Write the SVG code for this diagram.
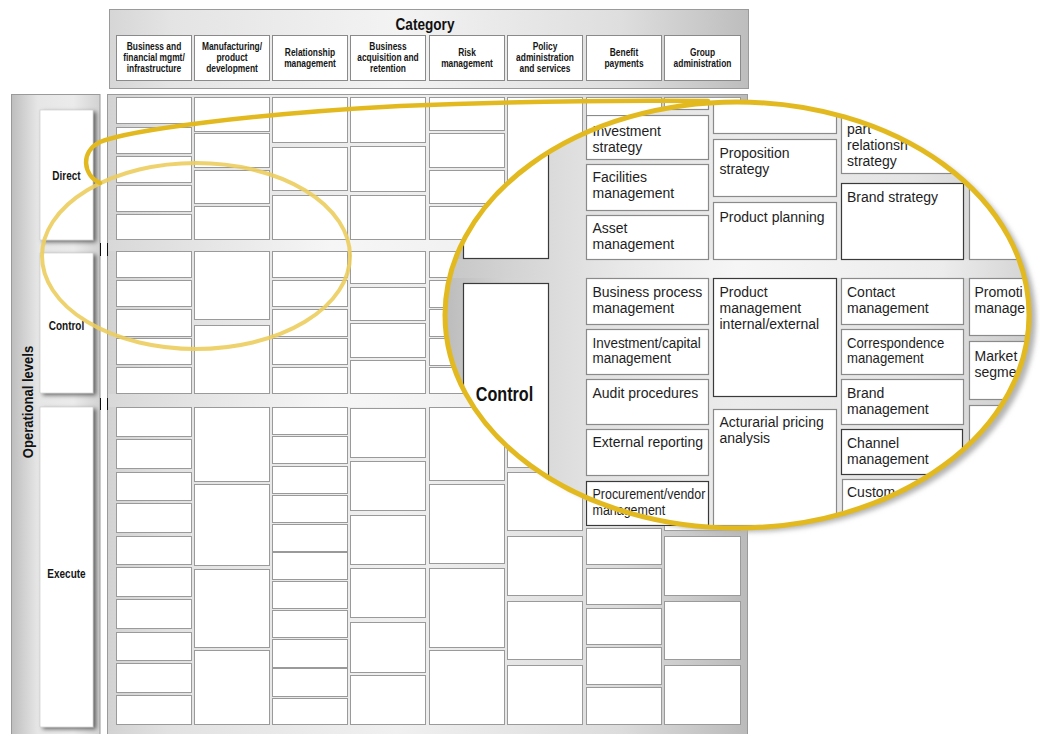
<svg xmlns="http://www.w3.org/2000/svg" width="1040" height="734" viewBox="0 0 1040 734">
<defs>
<linearGradient id="hdrGrad" gradientUnits="userSpaceOnUse" x1="109" y1="0" x2="749" y2="0">
<stop offset="0" stop-color="#d6d6d6"/><stop offset="0.1" stop-color="#e4e4e4"/><stop offset="0.45" stop-color="#f3f3f3"/><stop offset="0.8" stop-color="#dedede"/><stop offset="1" stop-color="#bdbdbd"/>
</linearGradient>
<linearGradient id="gridGrad" gradientUnits="userSpaceOnUse" x1="107" y1="0" x2="749" y2="0">
<stop offset="0" stop-color="#d2d2d2"/><stop offset="0.1" stop-color="#e2e2e2"/><stop offset="0.45" stop-color="#f0f0f0"/><stop offset="0.8" stop-color="#dcdcdc"/><stop offset="1" stop-color="#bababa"/>
</linearGradient>
<linearGradient id="bandGrad" gradientUnits="userSpaceOnUse" x1="107" y1="0" x2="749" y2="0">
<stop offset="0" stop-color="#d8d8d8"/><stop offset="0.35" stop-color="#f6f6f6"/><stop offset="0.7" stop-color="#eeeeee"/><stop offset="1" stop-color="#c8c8c8"/>
</linearGradient>
<linearGradient id="leftGrad" gradientUnits="userSpaceOnUse" x1="11" y1="0" x2="100" y2="0">
<stop offset="0" stop-color="#bdbdbd"/><stop offset="0.3" stop-color="#e6e6e6"/><stop offset="0.7" stop-color="#ebebeb"/><stop offset="1" stop-color="#d2d2d2"/>
</linearGradient>
<linearGradient id="magGrad" gradientUnits="userSpaceOnUse" x1="445" y1="0" x2="1030" y2="0">
<stop offset="0" stop-color="#bcbcbc"/><stop offset="0.1" stop-color="#d2d2d2"/><stop offset="0.25" stop-color="#e2e2e2"/><stop offset="0.5" stop-color="#ebebeb"/><stop offset="0.8" stop-color="#e4e4e4"/><stop offset="1" stop-color="#cdcdcd"/>
</linearGradient>
<linearGradient id="magBand" gradientUnits="userSpaceOnUse" x1="445" y1="0" x2="1030" y2="0">
<stop offset="0" stop-color="#c6c6c6"/><stop offset="0.3" stop-color="#e8e8e8"/><stop offset="0.5" stop-color="#f6f6f6"/><stop offset="0.85" stop-color="#ececec"/><stop offset="1" stop-color="#d4d4d4"/>
</linearGradient>
<filter id="shadow" x="-30%" y="-10%" width="160%" height="120%">
<feDropShadow dx="3" dy="2" stdDeviation="2" flood-color="#000" flood-opacity="0.55"/>
</filter>
<filter id="blur" x="-10%" y="-10%" width="120%" height="120%">
<feGaussianBlur stdDeviation="2.5"/>
</filter>
<clipPath id="magClip">
<ellipse cx="737" cy="315" rx="292" ry="213"/>
<rect x="586" y="115" width="123" height="45"/>
<rect x="586" y="481" width="123" height="45"/>
</clipPath>
</defs>
<style>
.box{fill:#fff;stroke:#9a9a9a;stroke-width:1}
.hbox{fill:#fff;stroke:#8a8a8a;stroke-width:1}
.ht{font-family:"Liberation Sans",Arial,sans-serif;font-weight:bold;font-size:10px;fill:#151515;text-anchor:middle}
.lbl{fill:#fff;stroke:#bbb;stroke-width:0.5;filter:url(#shadow)}
.lt{font-family:"Liberation Sans",Arial,sans-serif;font-weight:bold;font-size:12.5px;fill:#151515;text-anchor:middle}
.mbox{fill:#fff;stroke:#8a8a8a;stroke-width:1.2}
.mdark{fill:#fff;stroke:#3a3a3a;stroke-width:1.2}
.mt{font-family:"Liberation Sans",Arial,sans-serif;font-size:14px;fill:#1e1e1e}
.tick{stroke:#111;stroke-width:1}
</style>
<rect width="1040" height="734" fill="#fff"/>

<g id="header">
<rect x="109.5" y="9.5" width="639" height="79" fill="url(#hdrGrad)" stroke="#9a9a9a"/>
<text x="0" y="0" transform="translate(425,29.5) scale(0.85,1)" font-family="Liberation Sans,Arial,sans-serif" font-weight="bold" font-size="16" fill="#111" text-anchor="middle">Category</text>
<g id="h1"><rect class="hbox" x="116.5" y="35.5" width="75" height="45"/><text class="ht" transform="translate(154,49.5) scale(0.84,1)"><tspan x="0">Business and</tspan><tspan x="0" dy="11.5">financial mgmt/</tspan><tspan x="0" dy="11.5">infrastructure</tspan></text></g>
<g id="h2"><rect class="hbox" x="194.5" y="35.5" width="75" height="45"/><text class="ht" transform="translate(232,49.5) scale(0.84,1)"><tspan x="0">Manufacturing/</tspan><tspan x="0" dy="11.5">product</tspan><tspan x="0" dy="11.5">development</tspan></text></g>
<g id="h3"><rect class="hbox" x="272.5" y="35.5" width="75" height="45"/><text class="ht" transform="translate(310,55.5) scale(0.84,1)"><tspan x="0">Relationship</tspan><tspan x="0" dy="11.5">management</tspan></text></g>
<g id="h4"><rect class="hbox" x="350.5" y="35.5" width="75" height="45"/><text class="ht" transform="translate(388,49.5) scale(0.84,1)"><tspan x="0">Business</tspan><tspan x="0" dy="11.5">acquisition and</tspan><tspan x="0" dy="11.5">retention</tspan></text></g>
<g id="h5"><rect class="hbox" x="429.5" y="35.5" width="75" height="45"/><text class="ht" transform="translate(467,55.5) scale(0.84,1)"><tspan x="0">Risk</tspan><tspan x="0" dy="11.5">management</tspan></text></g>
<g id="h6"><rect class="hbox" x="507.5" y="35.5" width="75" height="45"/><text class="ht" transform="translate(545,49.5) scale(0.84,1)"><tspan x="0">Policy</tspan><tspan x="0" dy="11.5">administration</tspan><tspan x="0" dy="11.5">and services</tspan></text></g>
<g id="h7"><rect class="hbox" x="586.5" y="35.5" width="75" height="45"/><text class="ht" transform="translate(624,55.5) scale(0.84,1)"><tspan x="0">Benefit</tspan><tspan x="0" dy="11.5">payments</tspan></text></g>
<g id="h8"><rect class="hbox" x="664.5" y="35.5" width="76" height="45"/><text class="ht" transform="translate(702.5,55.5) scale(0.84,1)"><tspan x="0">Group</tspan><tspan x="0" dy="11.5">administration</tspan></text></g>
</g>

<g id="levels">
<rect x="11.5" y="94.5" width="88.5" height="650" fill="url(#leftGrad)" stroke="#9a9a9a"/>
<text transform="translate(33,402) rotate(-90) scale(0.9,1)" font-family="Liberation Sans,Arial,sans-serif" font-weight="bold" font-size="14.5" fill="#111" text-anchor="middle">Operational levels</text>
<g id="lvl-direct"><rect class="lbl" x="40" y="110" width="53" height="130"/><text class="lt" transform="translate(66.5,180) scale(0.8,1)">Direct</text></g>
<g id="lvl-control"><rect class="lbl" x="40" y="253" width="53" height="140"/><text class="lt" transform="translate(66.5,330) scale(0.8,1)">Control</text></g>
<g id="lvl-execute"><rect class="lbl" x="40" y="407" width="53" height="320"/><text class="lt" transform="translate(66.5,578) scale(0.8,1)">Execute</text></g>
</g>

<g id="grid">
<rect x="107.5" y="94.5" width="640" height="650" fill="url(#gridGrad)" stroke="#9a9a9a"/>
<rect x="108" y="240" width="639" height="11" fill="url(#bandGrad)"/>
<rect x="108" y="394" width="639" height="13" fill="url(#bandGrad)"/>
<line class="tick" x1="100.5" y1="243" x2="100.5" y2="256"/><line class="tick" x1="107.5" y1="243" x2="107.5" y2="256"/>
<line class="tick" x1="100.5" y1="398" x2="100.5" y2="410"/><line class="tick" x1="107.5" y1="398" x2="107.5" y2="410"/>

<g id="col1">
<g id="c1d1"><rect class="box" x="116.5" y="97.5" width="75" height="26"/></g>
<g id="c1d2"><rect class="box" x="116.5" y="127.5" width="75" height="26"/></g>
<g id="c1d3"><rect class="box" x="116.5" y="156.5" width="75" height="26"/></g>
<g id="c1d4"><rect class="box" x="116.5" y="185.5" width="75" height="26"/></g>
<g id="c1d5"><rect class="box" x="116.5" y="214.5" width="75" height="25"/></g>
<g id="c1c1"><rect class="box" x="116.5" y="251.5" width="75" height="26"/></g>
<g id="c1c2"><rect class="box" x="116.5" y="280.5" width="75" height="26"/></g>
<g id="c1c3"><rect class="box" x="116.5" y="309.5" width="75" height="27"/></g>
<g id="c1c4"><rect class="box" x="116.5" y="338.5" width="75" height="26"/></g>
<g id="c1c5"><rect class="box" x="116.5" y="367.5" width="75" height="26"/></g>
<g id="c1e1"><rect class="box" x="116.5" y="407.5" width="75" height="29"/></g>
<g id="c1e2"><rect class="box" x="116.5" y="439.5" width="75" height="29"/></g>
<g id="c1e3"><rect class="box" x="116.5" y="472.5" width="75" height="28"/></g>
<g id="c1e4"><rect class="box" x="116.5" y="503.5" width="75" height="29"/></g>
<g id="c1e5"><rect class="box" x="116.5" y="536.5" width="75" height="28"/></g>
<g id="c1e6"><rect class="box" x="116.5" y="567.5" width="75" height="29"/></g>
<g id="c1e7"><rect class="box" x="116.5" y="599.5" width="75" height="29"/></g>
<g id="c1e8"><rect class="box" x="116.5" y="632.5" width="75" height="28"/></g>
<g id="c1e9"><rect class="box" x="116.5" y="663.5" width="75" height="29"/></g>
<g id="c1e10"><rect class="box" x="116.5" y="695.5" width="75" height="29"/></g>
</g>
<g id="col2">
<g id="c2d1"><rect class="box" x="194.5" y="97.5" width="75" height="34"/></g>
<g id="c2d2"><rect class="box" x="194.5" y="133.5" width="75" height="34"/></g>
<g id="c2d3"><rect class="box" x="194.5" y="170.5" width="75" height="33"/></g>
<g id="c2d4"><rect class="box" x="194.5" y="206.5" width="75" height="33"/></g>
<g id="c2c1"><rect class="box" x="194.5" y="251.5" width="75" height="68" stroke="#555"/></g>
<g id="c2c2"><rect class="box" x="194.5" y="325.5" width="75" height="68"/></g>
<g id="c2e1"><rect class="box" x="194.5" y="407.5" width="75" height="74"/></g>
<g id="c2e2"><rect class="box" x="194.5" y="484.5" width="75" height="81"/></g>
<g id="c2e3"><rect class="box" x="194.5" y="569.5" width="75" height="78"/></g>
<g id="c2e4"><rect class="box" x="194.5" y="650.5" width="75" height="74"/></g>
</g>
<g id="col3">
<g id="c3d1"><rect class="box" x="272.5" y="97.5" width="75" height="45"/></g>
<g id="c3d2"><rect class="box" x="272.5" y="147.5" width="75" height="43"/></g>
<g id="c3d3"><rect class="box" x="272.5" y="195.5" width="75" height="44"/></g>
<g id="c3c1"><rect class="box" x="272.5" y="251.5" width="75" height="26"/></g>
<g id="c3c2"><rect class="box" x="272.5" y="280.5" width="75" height="26"/></g>
<g id="c3c3"><rect class="box" x="272.5" y="309.5" width="75" height="27"/></g>
<g id="c3c4"><rect class="box" x="272.5" y="338.5" width="75" height="26"/></g>
<g id="c3c5"><rect class="box" x="272.5" y="367.5" width="75" height="26"/></g>
<g id="c3e1"><rect class="box" x="272.5" y="407.5" width="75" height="27"/></g>
<g id="c3e2"><rect class="box" x="272.5" y="436.5" width="75" height="27"/></g>
<g id="c3e3"><rect class="box" x="272.5" y="466.5" width="75" height="27"/></g>
<g id="c3e4"><rect class="box" x="272.5" y="495.5" width="75" height="27"/></g>
<g id="c3e5"><rect class="box" x="272.5" y="524.5" width="75" height="27"/></g>
<g id="c3e6"><rect class="box" x="272.5" y="552.5" width="75" height="27"/></g>
<g id="c3e7"><rect class="box" x="272.5" y="581.5" width="75" height="27"/></g>
<g id="c3e8"><rect class="box" x="272.5" y="610.5" width="75" height="27"/></g>
<g id="c3e9"><rect class="box" x="272.5" y="639.5" width="75" height="28"/></g>
<g id="c3e10"><rect class="box" x="272.5" y="668.5" width="75" height="28"/></g>
<g id="c3e11"><rect class="box" x="272.5" y="698.5" width="75" height="26"/></g>
</g>
<g id="col4">
<g id="c4d1"><rect class="box" x="350.5" y="97.5" width="75" height="45"/></g>
<g id="c4d2"><rect class="box" x="350.5" y="146.5" width="75" height="45"/></g>
<g id="c4d3"><rect class="box" x="350.5" y="195.5" width="75" height="44"/></g>
<g id="c4c1"><rect class="box" x="350.5" y="251.5" width="75" height="32"/></g>
<g id="c4c2"><rect class="box" x="350.5" y="287.5" width="75" height="33"/></g>
<g id="c4c3"><rect class="box" x="350.5" y="323.5" width="75" height="34"/></g>
<g id="c4c4"><rect class="box" x="350.5" y="360.5" width="75" height="33"/></g>
<g id="c4e1"><rect class="box" x="350.5" y="408.5" width="75" height="49"/></g>
<g id="c4e2"><rect class="box" x="350.5" y="461.5" width="75" height="49"/></g>
<g id="c4e3"><rect class="box" x="350.5" y="515.5" width="75" height="49"/></g>
<g id="c4e4"><rect class="box" x="350.5" y="568.5" width="75" height="49"/></g>
<g id="c4e5"><rect class="box" x="350.5" y="622.5" width="75" height="50"/></g>
<g id="c4e6"><rect class="box" x="350.5" y="675.5" width="75" height="49"/></g>
</g>
<g id="col5">
<g id="c5d1"><rect class="box" x="429.5" y="97.5" width="75" height="33"/></g>
<g id="c5d2"><rect class="box" x="429.5" y="133.5" width="75" height="34"/></g>
<g id="c5d3"><rect class="box" x="429.5" y="170.5" width="75" height="33"/></g>
<g id="c5d4"><rect class="box" x="429.5" y="206.5" width="75" height="33"/></g>
<g id="c5c1"><rect class="box" x="429.5" y="251.5" width="75" height="26"/></g>
<g id="c5c2"><rect class="box" x="429.5" y="280.5" width="75" height="27"/></g>
<g id="c5c3"><rect class="box" x="429.5" y="309.5" width="75" height="27"/></g>
<g id="c5c4"><rect class="box" x="429.5" y="338.5" width="75" height="27"/></g>
<g id="c5c5"><rect class="box" x="429.5" y="367.5" width="75" height="26"/></g>
<g id="c5e1"><rect class="box" x="429.5" y="407.5" width="75" height="73"/></g>
<g id="c5e2"><rect class="box" x="429.5" y="484.5" width="75" height="79"/></g>
<g id="c5e3"><rect class="box" x="429.5" y="568.5" width="75" height="79"/></g>
<g id="c5e4"><rect class="box" x="429.5" y="650.5" width="75" height="74"/></g>
</g>
<g id="col6">
<g id="c6d1"><rect class="box" x="507.5" y="97.5" width="75" height="142"/></g>
<g id="c6e1"><rect class="box" x="507.5" y="407.5" width="75" height="60"/></g>
<g id="c6e2"><rect class="box" x="507.5" y="472.5" width="75" height="58"/></g>
<g id="c6e3"><rect class="box" x="507.5" y="536.5" width="75" height="59"/></g>
<g id="c6e4"><rect class="box" x="507.5" y="601.5" width="75" height="58"/></g>
<g id="c6e5"><rect class="box" x="507.5" y="665.5" width="75" height="59"/></g>
</g>
<g id="col7">
<g id="c7d1"><rect class="box" x="586.5" y="97.5" width="75" height="43"/></g>
<g id="c7e1"><rect class="box" x="586.5" y="528.5" width="75" height="36"/></g>
<g id="c7e2"><rect class="box" x="586.5" y="568.5" width="75" height="36"/></g>
<g id="c7e3"><rect class="box" x="586.5" y="608.5" width="75" height="36"/></g>
<g id="c7e4"><rect class="box" x="586.5" y="647.5" width="75" height="37"/></g>
<g id="c7e5"><rect class="box" x="586.5" y="687.5" width="75" height="37"/></g>
</g>
<g id="col8">
<g id="c8d1"><rect class="box" x="664.5" y="97.5" width="76" height="43"/></g>
<g id="c8e1"><rect class="box" x="664.5" y="407.5" width="76" height="60"/></g>
<g id="c8e2"><rect class="box" x="664.5" y="472.5" width="76" height="58"/></g>
<g id="c8e3"><rect class="box" x="664.5" y="536.5" width="76" height="59"/></g>
<g id="c8e4"><rect class="box" x="664.5" y="601.5" width="76" height="58"/></g>
<g id="c8e5"><rect class="box" x="664.5" y="665.5" width="76" height="59"/></g>
</g>
</g>

<g id="source-lens">
<ellipse cx="196" cy="256" rx="154" ry="93" fill="none" stroke="#ebcd5e" stroke-width="4" opacity="0.9"/>
</g>

<g id="magnifier">
<ellipse cx="744" cy="319" rx="292" ry="213" fill="#b4b4b4" filter="url(#blur)"/>
<g clip-path="url(#magClip)">
<rect x="440" y="95" width="600" height="440" fill="url(#magGrad)"/>
<rect x="440" y="259" width="600" height="19" fill="url(#magBand)"/>
<g id="m-direct"><rect class="mdark" x="463.5" y="33.5" width="85" height="225"/></g>
<g id="m-control"><rect class="mdark" x="463.5" y="283.5" width="85" height="244"/><text transform="translate(504.5,401) scale(0.77,1)" font-family="Liberation Sans,Arial,sans-serif" font-weight="bold" font-size="21" fill="#111" text-anchor="middle">Control</text></g>

<g id="mb1"><rect class="mbox" x="586.5" y="14.5" width="122" height="45"/></g>
<g id="mb2"><rect class="mbox" x="586.5" y="65.5" width="122" height="44"/></g>
<g id="m-investment-strategy"><rect class="mbox" x="586.5" y="115.5" width="122" height="44"/><text class="mt" transform="translate(592.5,135.5)"><tspan x="0">Investment</tspan><tspan x="0" dy="16">strategy</tspan></text></g>
<g id="m-facilities"><rect class="mbox" x="586.5" y="164.5" width="122" height="46"/><text class="mt" transform="translate(592.5,181.5)"><tspan x="0">Facilities</tspan><tspan x="0" dy="16">management</tspan></text></g>
<g id="m-asset"><rect class="mbox" x="586.5" y="215.5" width="122" height="44"/><text class="mt" transform="translate(592.5,233)"><tspan x="0">Asset</tspan><tspan x="0" dy="16">management</tspan></text></g>
<g id="m-bpm"><rect class="mbox" x="586.5" y="278.5" width="122" height="46"/><text class="mt" transform="translate(592.5,297)"><tspan x="0">Business process</tspan><tspan x="0" dy="16">management</tspan></text></g>
<g id="m-invcap"><rect class="mbox" x="586.5" y="329.5" width="122" height="45"/><text class="mt" transform="translate(592.5,347.5) scale(0.96,1)"><tspan x="0">Investment/capital</tspan><tspan x="0" dy="16">management</tspan></text></g>
<g id="m-audit"><rect class="mbox" x="586.5" y="379.5" width="122" height="45"/><text class="mt" transform="translate(592.5,397.5)">Audit procedures</text></g>
<g id="m-external"><rect class="mbox" x="586.5" y="429.5" width="122" height="46"/><text class="mt" transform="translate(592.5,447)">External reporting</text></g>
<g id="m-procurement"><rect class="mdark" x="586.5" y="481.5" width="122" height="44"/><text class="mt" transform="translate(592.5,499) scale(0.89,1)"><tspan x="0">Procurement/vendor</tspan><tspan x="0" dy="16">management</tspan></text></g>

<g id="mc1"><rect class="mbox" x="713.5" y="76.5" width="123" height="57"/></g>
<g id="m-proposition"><rect class="mbox" x="713.5" y="139.5" width="123" height="57"/><text class="mt" transform="translate(719.5,157.5)"><tspan x="0">Proposition</tspan><tspan x="0" dy="16">strategy</tspan></text></g>
<g id="m-planning"><rect class="mbox" x="713.5" y="202.5" width="123" height="57"/><text class="mt" transform="translate(719.5,221.5)">Product planning</text></g>
<g id="m-prodmgmt"><rect class="mdark" x="713.5" y="278.5" width="123" height="118"/><text class="mt" transform="translate(719.5,296.5)"><tspan x="0">Product</tspan><tspan x="0" dy="16">management</tspan><tspan x="0" dy="16">internal/external</tspan></text></g>
<g id="m-actuarial"><rect class="mbox" x="713.5" y="409.5" width="123" height="116"/><text class="mt" transform="translate(719.5,427)"><tspan x="0">Acturarial pricing</tspan><tspan x="0" dy="16">analysis</tspan></text></g>

<g id="m-partner"><rect class="mbox" x="841.5" y="97.5" width="122" height="76"/><text class="mt" transform="translate(847,133.5)"><tspan x="0">part</tspan><tspan x="0" dy="16">relationsh</tspan><tspan x="0" dy="16">strategy</tspan></text></g>
<g id="m-brandstrat"><rect class="mdark" x="841.5" y="183.5" width="122" height="76"/><text class="mt" transform="translate(847,201.5)">Brand strategy</text></g>
<g id="m-contact"><rect class="mbox" x="841.5" y="278.5" width="122" height="46"/><text class="mt" transform="translate(847,296.5)"><tspan x="0">Contact</tspan><tspan x="0" dy="16">management</tspan></text></g>
<g id="m-corresp"><rect class="mbox" x="841.5" y="329.5" width="122" height="45"/><text class="mt" transform="translate(847,347.5) scale(0.94,1)"><tspan x="0">Correspondence</tspan><tspan x="0" dy="16">management</tspan></text></g>
<g id="m-brandmgmt"><rect class="mbox" x="841.5" y="379.5" width="122" height="45"/><text class="mt" transform="translate(847,397.5)"><tspan x="0">Brand</tspan><tspan x="0" dy="16">management</tspan></text></g>
<g id="m-channel"><rect class="mdark" x="841.5" y="429.5" width="121" height="45"/><text class="mt" transform="translate(847,447.5)"><tspan x="0">Channel</tspan><tspan x="0" dy="16">management</tspan></text></g>
<g id="m-custom"><rect class="mbox" x="842.5" y="479.5" width="121" height="46"/><text class="mt" transform="translate(847,497)">Custom</text></g>

<g id="me1"><rect class="mbox" x="969.5" y="97.5" width="123" height="76"/></g>
<g id="me2"><rect class="mbox" x="969.5" y="183.5" width="123" height="76"/></g>
<g id="m-promotion"><rect class="mbox" x="969.5" y="278.5" width="123" height="57"/><text class="mt" transform="translate(974.5,296.5)"><tspan x="0">Promoti</tspan><tspan x="0" dy="16">manage</tspan></text></g>
<g id="m-market"><rect class="mbox" x="969.5" y="341.5" width="123" height="58"/><text class="mt" transform="translate(974.5,360.5)"><tspan x="0">Market</tspan><tspan x="0" dy="16">segme</tspan></text></g>
<g id="me5"><rect class="mbox" x="969.5" y="405.5" width="123" height="59"/></g>
<g id="me6"><rect class="mbox" x="969.5" y="469.5" width="123" height="56"/></g>
</g>
<ellipse cx="737" cy="315" rx="292" ry="213" fill="none" stroke="#e2ba1f" stroke-width="5"/>
</g>

<g id="connectors">
<path d="M100,183 C83,175 80,152 100,142 C130,130 250,114 400,106 C500,102 620,100 708,101" fill="none" stroke="#e2ba1f" stroke-width="4.5" stroke-linecap="round"/>
</g>
</svg>
